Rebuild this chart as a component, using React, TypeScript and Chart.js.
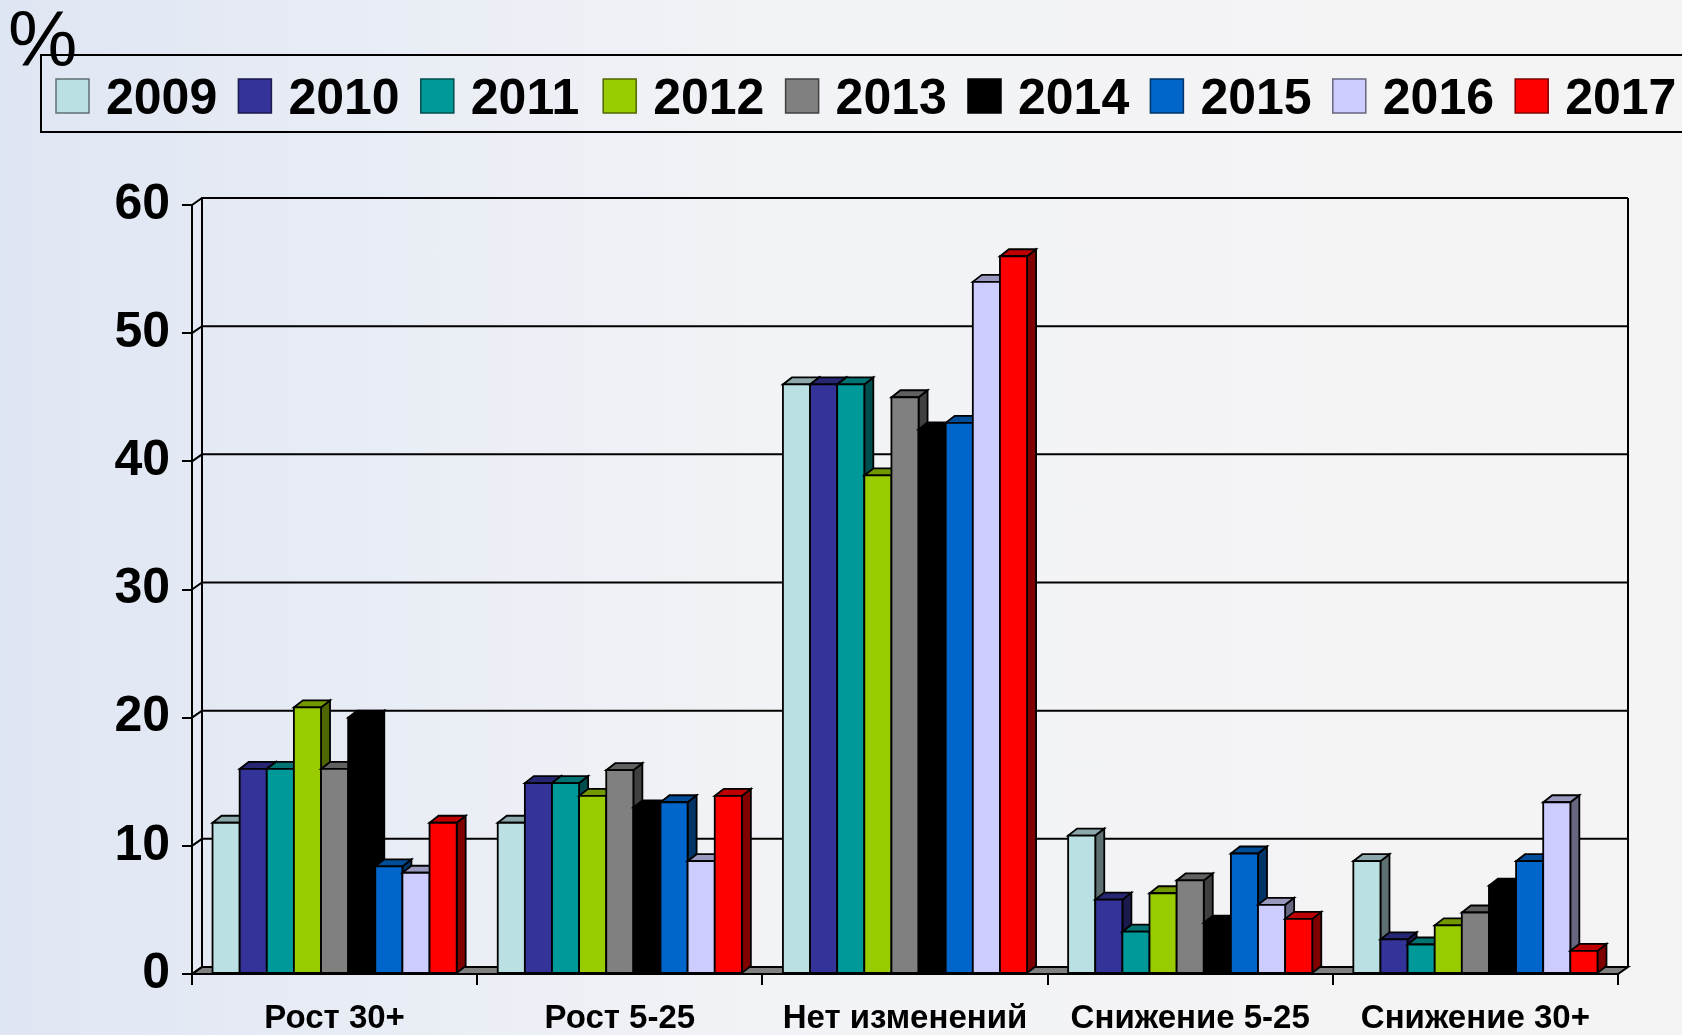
import React, { useEffect, useRef } from 'react';
import { Chart, registerables } from 'chart.js';

Chart.register(...registerables);

const FONT = '"Liberation Sans", Arial, sans-serif';

const categories = ['Рост 30+', 'Рост 5-25', 'Нет изменений', 'Снижение 5-25', 'Снижение 30+'];
const years = ['2009', '2010', '2011', '2012', '2013', '2014', '2015', '2016', '2017'];

const v2009 = [11.8, 11.8, 46, 10.8, 8.8];
const v2010 = [16, 14.9, 46, 5.8, 2.7];
const v2011 = [16, 14.9, 46, 3.3, 2.3];
const v2012 = [20.8, 13.9, 38.9, 6.3, 3.8];
const v2013 = [16, 15.9, 45, 7.3, 4.8];
const v2014 = [20, 13, 42.5, 4, 6.9];
const v2015 = [8.4, 13.4, 43, 9.4, 8.8];
const v2016 = [7.9, 8.8, 54, 5.4, 13.4];
const v2017 = [11.8, 13.9, 56, 4.3, 1.8];

const series = [v2009, v2010, v2011, v2012, v2013, v2014, v2015, v2016, v2017];
const colors = ['#BBE0E3', '#333399', '#009999', '#99CC00', '#808080', '#000000', '#0066CC', '#CCCCFF', '#FF0000'];

const yMin = 0;
const yMax = 60;
const yStep = 10;
const unitLabel = '%';

// 3D depth offsets
const DX = 9, DY = -7, WDX = 10, WDY = -7;

function shade(hex: string, f: number): string {
  const h = hex.replace('#', '');
  const r = Math.round(parseInt(h.slice(0, 2), 16) * f);
  const g = Math.round(parseInt(h.slice(2, 4), 16) * f);
  const b = Math.round(parseInt(h.slice(4, 6), 16) * f);
  return `rgb(${r},${g},${b})`;
}

function poly(ctx: CanvasRenderingContext2D, pts: number[][], fill: string) {
  ctx.beginPath();
  ctx.moveTo(pts[0][0], pts[0][1]);
  for (let i = 1; i < pts.length; i++) ctx.lineTo(pts[i][0], pts[i][1]);
  ctx.closePath();
  ctx.fillStyle = fill;
  ctx.fill();
  ctx.stroke();
}

const threeD = {
  id: 'threeD',
  beforeDatasetsDraw(chart: any) {
    const { ctx, chartArea: a } = chart;
    const y = chart.scales.y;
    ctx.save();
    ctx.strokeStyle = '#000';
    ctx.lineWidth = 2;
    ctx.lineJoin = 'miter';
    // floor
    poly(ctx, [[a.left, a.bottom], [a.right, a.bottom], [a.right + WDX, a.bottom + WDY], [a.left + WDX, a.bottom + WDY]], '#808080');
    // grid lines on left + back wall
    ctx.beginPath();
    y.ticks.forEach((t: any) => {
      const py = y.getPixelForValue(t.value);
      ctx.moveTo(a.left, py);
      ctx.lineTo(a.left + WDX, py + WDY);
      if (t.value !== yMin) ctx.lineTo(a.right + WDX, py + WDY);
    });
    ctx.moveTo(a.left + WDX, a.top + WDY);
    ctx.lineTo(a.left + WDX, a.bottom + WDY);
    ctx.moveTo(a.right + WDX, a.top + WDY);
    ctx.lineTo(a.right + WDX, a.bottom + WDY);
    ctx.stroke();

    // bars, left to right
    ctx.lineWidth = 1.8;
    const n = chart.data.datasets.length;
    for (let j = 0; j < categories.length; j++) {
      for (let i = 0; i < n; i++) {
        const el: any = chart.getDatasetMeta(i).data[j];
        if (!el) continue;
        const L = el.x - el.width / 2;
        const R = el.x + el.width / 2;
        const T = el.y;
        const B = el.base;
        const c = colors[i];
        poly(ctx, [[R, T], [R + DX, T + DY], [R + DX, B + DY], [R, B]], shade(c, 0.5));
        poly(ctx, [[L, T], [R, T], [R + DX, T + DY], [L + DX, T + DY]], shade(c, 0.75));
        poly(ctx, [[L, T], [R, T], [R, B], [L, B]], c);
      }
    }
    ctx.restore();
  },
  beforeDatasetDraw() {
    return false;
  },
  afterDraw(chart: any) {
    const { ctx } = chart;
    ctx.save();
    // unit label
    ctx.fillStyle = '#000';
    ctx.font = `78px ${FONT}`;
    ctx.textBaseline = 'alphabetic';
    ctx.textAlign = 'left';
    ctx.fillText(unitLabel, 8, 66);
    // legend frame
    ctx.strokeStyle = '#000';
    ctx.lineWidth = 2;
    ctx.beginPath();
    ctx.moveTo(1700, 55);
    ctx.lineTo(41, 55);
    ctx.lineTo(41, 132);
    ctx.lineTo(1700, 132);
    ctx.stroke();
    // legend items
    ctx.font = `bold 50px ${FONT}`;
    ctx.lineWidth = 1.5;
    years.forEach((yr, i) => {
      const bx = 56 + 182.4 * i;
      ctx.fillStyle = colors[i];
      ctx.fillRect(bx, 79, 33, 34);
      ctx.strokeStyle = shade(colors[i], 0.5);
      ctx.strokeRect(bx, 79, 33, 34);
      ctx.fillStyle = '#000';
      ctx.fillText(yr, bx + 50, 114);
    });
    ctx.restore();
  },
};

export default function App() {
  const ref = useRef<HTMLCanvasElement>(null);
  useEffect(() => {
    if (!ref.current) return;
    const chart = new Chart(ref.current, {
      type: 'bar',
      data: {
        labels: categories,
        datasets: years.map((yr, i) => ({
          label: yr,
          data: series[i],
          backgroundColor: colors[i],
          borderWidth: 0,
          categoryPercentage: 0.856,
          barPercentage: 1,
        })),
      },
      options: {
        responsive: false,
        animation: false,
        devicePixelRatio: 1,
        layout: { padding: { top: 205, right: 64, left: 0, bottom: 0 } },
        plugins: { legend: { display: false }, tooltip: { enabled: false } },
        scales: {
          x: {
            grid: { display: true, drawOnChartArea: false, drawTicks: true, tickLength: 11, color: '#000', lineWidth: 2, offset: true },
            border: { display: true, color: '#000', width: 2 },
            ticks: { color: '#000', font: { family: FONT, size: 33, weight: 'bold' }, padding: 14, maxRotation: 0, autoSkip: false },
            afterFit(s: any) { s.height = 61; },
          },
          y: {
            min: yMin,
            max: yMax,
            ticks: { stepSize: yStep, color: '#000', font: { family: FONT, size: 50, weight: 'bold' }, padding: 12 },
            grid: { display: true, drawOnChartArea: false, drawTicks: true, tickLength: 10, color: '#000', lineWidth: 2 },
            border: { display: true, color: '#000', width: 2 },
            afterFit(s: any) { s.width = 192; },
          },
        },
      } as any,
      plugins: [threeD as any],
    });
    return () => chart.destroy();
  }, []);
  return (
    <div
      style={{
        position: 'absolute',
        left: 0,
        top: 0,
        width: 1682,
        height: 1035,
        overflow: 'hidden',
        background: 'linear-gradient(to right, #dfe6f3 0px, #f2f3f6 780px, #f4f4f4 1682px)',
      }}
    >
      <canvas ref={ref} width={1682} height={1035} style={{ display: 'block', width: 1682, height: 1035 }} />
    </div>
  );
}
